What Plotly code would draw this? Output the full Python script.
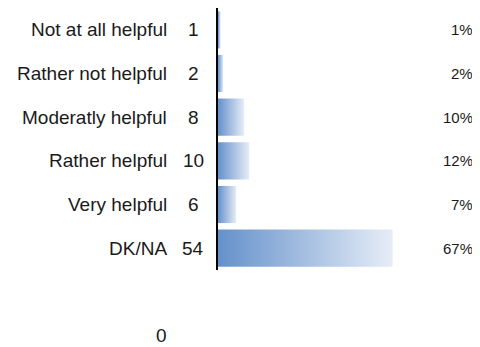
import plotly.graph_objects as go

# survey answers, top to bottom
categories = ["Not at all helpful", "Rather not helpful", "Moderatly helpful",
              "Rather helpful", "Very helpful", "DK/NA"]
counts = [1, 2, 8, 10, 6, 54]
percents = [1, 2, 10, 12, 7, 67]
footer_value = "0"

FONT = "Liberation Sans, Arial, sans-serif"
BAR_HALF = 0.425
GRADIENT = [[0, "#6591cb"], [1, "#e6edf7"]]

# the page body has an 8px margin, so the figure is drawn 8px smaller
# and every target pixel below is given in window coords, minus that offset
OFF = 8
W, H = 480 - OFF, 347 - OFF
L, T = 218 - OFF, 0
R, B = 4, 77
plot_w = W - L - R
plot_h = H - T - B


def px_to_paper_x(px):
    return (px - OFF - L) / plot_w


def px_to_paper_y(py):
    return (H - B - (py - OFF)) / plot_h


fig = go.Figure()

# each bar is a filled polygon so it can carry a horizontal gradient
for i, p in enumerate(percents):
    fig.add_trace(go.Scatter(
        x=[0, p, p, 0, 0],
        y=[i - BAR_HALF, i - BAR_HALF, i + BAR_HALF, i + BAR_HALF, i - BAR_HALF],
        mode="lines",
        line=dict(width=0),
        fill="toself",
        fillgradient=dict(type="horizontal", colorscale=GRADIENT),
        hoverinfo="skip",
        showlegend=False,
    ))

for i, (cat, n, p) in enumerate(zip(categories, counts, percents)):
    fig.add_annotation(x=px_to_paper_x(169), xref="paper", y=i, yref="y",
                       text=cat, showarrow=False, xanchor="right",
                       font=dict(size=19, color="#1a1a1a", family=FONT))
    fig.add_annotation(x=px_to_paper_x(193), xref="paper", y=i, yref="y",
                       text=str(n), showarrow=False, xanchor="center",
                       font=dict(size=19, color="#1a1a1a", family=FONT))
    fig.add_annotation(x=px_to_paper_x(475), xref="paper", y=i, yref="y",
                       text=f"{p}%", showarrow=False, xanchor="right",
                       font=dict(size=15, color="#1a1a1a", family=FONT))

fig.add_annotation(x=px_to_paper_x(161), xref="paper", y=px_to_paper_y(336),
                   yref="paper", text=footer_value, showarrow=False,
                   xanchor="center", yanchor="middle",
                   font=dict(size=19, color="#1a1a1a", family=FONT))

fig.update_layout(
    width=W, height=H,
    margin=dict(l=L, r=R, t=T, b=B, autoexpand=False),
    paper_bgcolor="white",
    plot_bgcolor="white",
    xaxis=dict(range=[0, 99], visible=False, fixedrange=True),
    yaxis=dict(range=[5.5, -0.5], showline=True, linecolor="black", linewidth=2,
               showticklabels=False, ticks="", showgrid=False, zeroline=False,
               fixedrange=True),
    font=dict(family=FONT),
)

fig.write_html("out.html")
